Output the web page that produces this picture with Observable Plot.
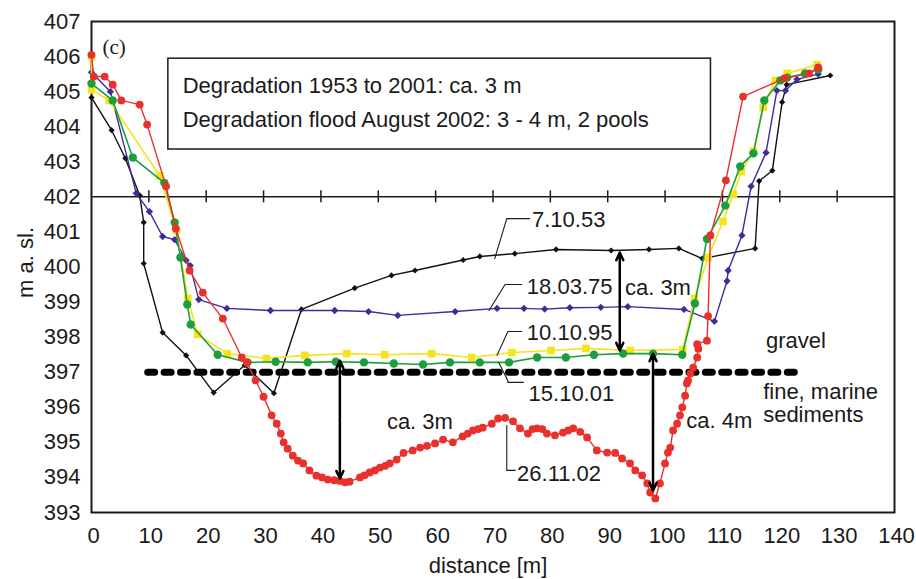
<!DOCTYPE html>
<html>
<head>
<meta charset="utf-8">
<script src="https://cdn.jsdelivr.net/npm/d3@7"></script>
<script src="https://cdn.jsdelivr.net/npm/@observablehq/plot@0.6"></script>
<style>
  html, body { margin: 0; padding: 0; background: #fff; }
  svg { display: block; }
</style>
</head>
<body>
<div id="chart"></div>
<script>
// ---- axis ticks ----
const xTicks = [0, 10, 20, 30, 40, 50, 60, 70, 80, 90, 100, 110, 120, 130, 140];
const yTicks = [393, 394, 395, 396, 397, 398, 399, 400, 401, 402, 403, 404, 405, 406, 407];
const axisCrossY = 402;

// ---- survey profiles: [distance m, elevation m a.sl.] ----
const s531007 = [[0,404.83],[3.5,403.9],[5.9,403.1],[8.4,402.04],[9.1,401.27],[9.1,400.1],[12.4,398.13],[16.5,397.48],[21.3,396.42],[26.7,397.2],[31.8,396.4],[36.6,398.79],[45.9,399.4],[52.3,399.76],[56.4,399.9],[64.8,400.2],[67.7,400.3],[73.8,400.38],[81,400.5],[90.6,400.47],[97.2,400.5],[102.4,400.53],[106.5,400.24],[115.7,400.53],[116.4,402.45],[118.7,402.75],[120.4,404.7],[121.2,405.2],[128.8,405.46]];
const s750318 = [[0,405.55],[3.3,405.0],[7.8,402.1],[10.1,401.58],[12.4,400.87],[14.5,400.78],[16.5,400.19],[17.2,400.04],[18.7,399.07],[23.6,398.82],[31.2,398.76],[42.4,398.76],[48.3,398.73],[53.4,398.62],[63.4,398.73],[70.7,398.82],[75.4,398.82],[79,398.8],[83.4,398.84],[88.8,398.85],[93.5,398.87],[103.3,398.79],[108.6,398.45],[110.8,399.6],[111,399.9],[113.4,400.9],[115,402.3],[117.6,403.26],[119.5,405.03],[121,405.03],[123,405.35],[126.7,405.5]];
const s951010 = [[0,406.0],[0,405.05],[3.1,404.75],[11.9,402.6],[14.8,401.04],[16.8,399.1],[18.5,398.08],[23.7,397.53],[30.5,397.39],[37.2,397.48],[44.5,397.53],[51.1,397.5],[59.3,397.53],[66.3,397.42],[73.3,397.56],[80.1,397.62],[86.2,397.68],[93.9,397.62],[103.1,397.65],[105.1,399.1],[107.5,400.27],[110.1,401.3],[111.9,402.07],[113.3,402.72],[115.4,403.3],[117.1,404.55],[119.2,405.32],[121.3,405.52],[126.5,405.77]];
const s011015 = [[0,405.23],[3.7,404.75],[7.2,403.12],[12.7,402.4],[14.5,401.27],[15.5,400.27],[16.7,398.93],[17.3,398.36],[22,397.5],[27.2,397.28],[32.1,397.3],[37.7,397.28],[42.6,397.3],[47.5,397.28],[52.7,397.25],[57.8,397.22],[62.5,397.28],[67.7,397.28],[72.8,397.28],[77.7,397.42],[82.7,397.42],[87.6,397.5],[92.7,397.53],[97.9,397.53],[103,397.5],[105.2,398.96],[107.3,400.8],[110.5,401.75],[113.1,402.87],[115.4,403.24],[117.3,404.75],[120.1,405.32],[121.3,405.4],[124.4,405.52],[126.7,405.63]];
const s021126 = [[0,406.05],[0.4,405.43],[2.3,405.43],[3.7,405.2],[5.2,404.75],[8.4,404.63],[9.7,404.06],[13,402.3],[14.7,401.1],[17.1,399.9],[19.4,399.27],[22.9,398.53],[26.2,397.42],[27.1,397.28],[28.6,396.77],[30,396.3],[31.4,395.77],[32.3,395.53],[33,395.25],[33.5,395.0],[34.2,394.82],[35.1,394.62],[36,394.48],[36.9,394.4],[38,394.2],[39.2,394.05],[40.2,394.0],[41.2,393.94],[42.3,393.92],[43.3,393.9],[44.2,393.86],[45,393.88],[46.8,394.0],[47.6,394.06],[48.5,394.14],[49.4,394.2],[50.3,394.28],[51.2,394.33],[52,394.4],[53.2,394.51],[54.4,394.7],[56,394.77],[57.3,394.85],[58.5,394.9],[59.9,394.97],[61.3,395.08],[63,395.0],[64.7,395.17],[65.6,395.25],[66.5,395.34],[67.4,395.38],[68.2,395.42],[69.8,395.53],[70.9,395.68],[72.1,395.7],[73.5,395.6],[74.7,395.4],[76.1,395.25],[76.9,395.38],[77.7,395.4],[78.6,395.38],[79.4,395.25],[80.8,395.2],[82.2,395.28],[83.1,395.34],[84,395.4],[85.2,395.3],[86.4,395.14],[88.1,394.77],[89.9,394.71],[91.3,394.7],[92.5,394.54],[93.9,394.4],[94.8,394.2],[96,394.06],[96.9,393.83],[97.4,393.57],[98.3,393.4],[99.1,393.83],[100,394.4],[100.5,394.71],[100.9,394.85],[101.4,395.34],[102.1,395.53],[102.6,395.77],[103,396.0],[103.5,396.33],[103.8,396.68],[104,396.76],[104.4,396.96],[104.9,397.13],[105.6,397.42],[105.8,397.67],[105.6,397.8],[107.3,397.9],[107.5,398.6],[107.9,400.9],[110.6,402.47],[113.6,404.86],[120.8,405.38],[125.1,405.52],[126.7,405.69]];

// ---- boundary gravel / fine marine sediments ----
const gravelX = [9.8, 122.7];
const gravelY = 397;

// ---- text annotations ----
const boxX = [13.4, 108];
const boxY = [403.35, 405.94];
const boxLines = ["Degradation 1953 to 2001: ca. 3 m", "Degradation flood August 2002: 3 - 4 m, 2 pools"];
const boxLineX = [15.9, 15.9];
const boxLineY = [405.15, 404.2];

const labelText = ["7.10.53", "18.03.75", "10.10.95", "15.10.01", "26.11.02", "ca. 3m", "ca. 3m", "ca. 4m", "gravel", "fine, marine", "sediments"];
const labelX = [76.8, 75.9, 75.9, 76.2, 74.2, 93.0, 51.5, 103.7, 117.6, 117.1, 117.1];
const labelY = [401.33, 399.44, 398.13, 396.38, 394.11, 399.39, 395.57, 395.6, 397.9, 396.44, 395.78];

const yTitle = "m a. sl.";
const yTitleAt = 400.13;
const xTitle = "distance [m]";

// leader lines from date labels to the profiles
const leaders = [
  {id: "53", pts: [[76.4,401.38],[72.4,401.38],[70.3,400.24]]},
  {id: "75", pts: [[75.0,399.5],[72.1,399.5],[69.3,398.76]]},
  {id: "95", pts: [[75.0,398.16],[72.6,398.16],[70.7,397.48]]},
  {id: "01", pts: [[71.0,397.28],[72.6,396.76],[72.6,396.71],[75.3,396.71]]},
  {id: "02", pts: [[72.4,395.48],[72.4,394.2],[73.9,394.2]]}
];

// double-headed arrows (x, top, bottom)
const arrowX = [92.1, 43.3, 97.9];
const arrowTop = [400.41, 397.33, 397.53];
const arrowBottom = [397.62, 393.97, 393.63];

const panelLabel = "(c)";
const panelX = 1.9, panelY = 406.26;

// ---- build tables ----
const toRows = (arr) => arr.map(([x, y]) => ({x, y}));
const series = [
  {data: toRows(s531007), color: "#111111", symbol: "diamond2", r: 2.8, sw: 1.4},
  {data: toRows(s750318), color: "#3d2c9a", symbol: "diamond2", r: 3.3, sw: 1.4},
  {data: toRows(s951010), color: "#f5e41c", symbol: "square", r: 4.3, sw: 1.6},
  {data: toRows(s011015), color: "#1d9e3c", symbol: "circle", r: 4.2, sw: 1.6},
  {data: toRows(s021126), color: "#e8302d", symbol: "circle", r: 3.9, sw: 1.4}
];
const labels = labelText.map((t, i) => ({t, x: labelX[i], y: labelY[i]}));
const leaderRows = leaders.flatMap(l => l.pts.map(([x, y]) => ({id: l.id, x, y})));
const arrows = arrowX.flatMap((x, i) => {
  const mid = (arrowTop[i] + arrowBottom[i]) / 2;
  return [{x, y1: mid, y2: arrowTop[i]}, {x, y1: mid, y2: arrowBottom[i]}];
});
const boxRows = boxLines.map((t, i) => ({t, x: boxLineX[i], y: boxLineY[i]}));

const ink = "#1a1a1a";
const font = "'Liberation Sans', Arial, Helvetica, sans-serif";

const marks = [
  Plot.frame({stroke: ink, strokeWidth: 2}),
  Plot.ruleY([axisCrossY], {stroke: ink, strokeWidth: 1.5}),
  Plot.ruleX(xTicks.slice(1, -1), {y1: () => axisCrossY, y2: () => axisCrossY, insetTop: -6, insetBottom: -6, stroke: ink, strokeWidth: 1.5}),
  Plot.axisX({ticks: xTicks, tickSize: 0, tickPadding: 15, dx: 2, label: null, fontSize: 22, fill: ink}),
  Plot.axisY({ticks: yTicks, tickSize: 0, tickPadding: 11, label: null, fontSize: 22, fill: ink}),
  Plot.text([xTitle], {frameAnchor: "bottom", textAnchor: "middle", lineAnchor: "middle", dy: 53, dx: -5, fontSize: 22, fill: ink}),
  Plot.text([{t: yTitle, y: yTitleAt}], {y: "y", text: "t", frameAnchor: "left", textAnchor: "middle", lineAnchor: "middle", rotate: -90, dx: -66, fontSize: 22, fill: ink}),
  Plot.rect([{x1: boxX[0], x2: boxX[1], y1: boxY[0], y2: boxY[1]}], {x1: "x1", x2: "x2", y1: "y1", y2: "y2", fill: "white", stroke: ink, strokeWidth: 1.5}),
  Plot.text(boxRows, {x: "x", y: "y", text: "t", textAnchor: "start", fontSize: 22, fill: ink}),
  Plot.text([panelLabel], {x: () => panelX, y: () => panelY, textAnchor: "start", fontSize: 21, fontFamily: "'Liberation Serif', 'Times New Roman', serif", fill: ink}),
  Plot.line(gravelX.map(x => ({x, y: gravelY})), {x: "x", y: "y", stroke: "#000", strokeWidth: 7, strokeDasharray: "7,9.4"})
];
for (const s of series) {
  marks.push(Plot.line(s.data, {x: "x", y: "y", stroke: s.color, strokeWidth: s.sw}));
  marks.push(Plot.dot(s.data, {x: "x", y: "y", symbol: s.symbol, r: s.r, fill: s.color, stroke: "none"}));
}
marks.push(
  Plot.line(leaderRows, {x: "x", y: "y", z: "id", stroke: ink, strokeWidth: 1.1}),
  Plot.arrow(arrows, {x1: "x", x2: "x", y1: "y1", y2: "y2", stroke: "#000", strokeWidth: 2.5, headLength: 5, headAngle: 50}),
  Plot.text(labels, {x: "x", y: "y", text: "t", textAnchor: "start", fontSize: 22, fill: ink})
);

const chart = Plot.plot({
  width: 916,
  height: 579,
  marginLeft: 91,
  marginRight: 22,
  marginTop: 21,
  marginBottom: 67,
  x: {domain: [0, 140]},
  y: {domain: [393, 407]},
  style: {fontFamily: font, fontSize: "22px", background: "white", color: ink},
  marks
});
document.getElementById("chart").appendChild(chart);
</script>
</body>
</html>
